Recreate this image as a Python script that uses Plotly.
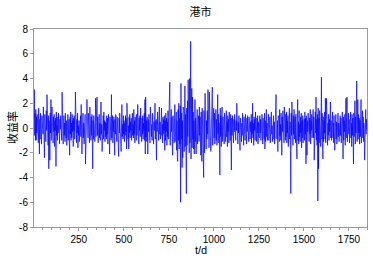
import plotly.graph_objects as go

# Returns, one value every 2 days (t = 1, 3, 5, ... 1849)
returns = [
    0.8, 3.1, -0.6, 1.2, -1.0, 1.5, -1.0, 0.9, -0.4, 1.1, -0.8, 0.5, -1.2, 1.6, -0.3, -2.1, 0.7, -0.9, 1.2, -0.5, 0.4, -1.3, 1.0, -0.2, 0.6,
    -0.5, 1.7, -0.9, 0.3, -2.4, 1.1, -0.6, 0.8, -1.1, 1.4, -0.2, 2.7, -0.7, 0.5, -1.4, 1.0, -3.3, 0.6, -0.9, -2.6, 1.2, -0.4, 2.3, -1.0, 0.7,
    1.7, -0.8, 0.4, -1.2, 0.9, -0.3, 1.1, -1.5, 0.6, -0.2, 0.8, -3.1, 1.3, -0.6, 0.2, -1.0, 0.9, -0.4, 1.2, -0.9, 0.5, -1.3, 0.7, -0.1, 1.0,
    -0.7, 0.5, -1.0, 2.9, -0.4, 0.8, -1.3, 0.3, 1.0, -0.6, 0.4, -1.1, 1.2, -0.2, -0.8, 0.6, -1.4, 0.9, -0.3, 1.1, -1.0, 0.2, 0.7, -1.2, -2.2,
    0.9, -0.5, 1.3, -1.0, 0.4, -0.8, 1.1, -0.3, 0.6, -1.5, 0.8, -0.2, 1.0, -0.9, 0.3, 2.9, -0.7, 0.5, -1.2, 0.7, -0.4, 1.2, -1.6, 0.2, -0.6,
    0.6, -1.1, 0.8, -0.4, 1.0, -0.7, 1.9, -0.2, -2.1, 0.9, -0.5, 1.2, -0.8, 0.4, -1.3, 0.7, -0.3, 1.1, -2.9, 0.5, -0.9, 1.0, 2.3, -0.6, 0.3,
    -0.8, 1.2, -0.4, 0.7, -1.2, 1.7, -0.3, 0.5, -1.0, 0.9, -0.6, 1.1, -1.4, -3.3, 0.6, -0.9, 1.0, -0.2, 0.8, -1.1, 0.4, 2.4, -0.7, 0.9, -0.5,
    2.5, -0.6, 0.9, -1.2, 0.5, -0.3, 1.1, -0.8, 0.4, -1.0, 0.7, 2.1, -0.5, 0.3, -1.9, 0.8, -0.4, 1.0, -0.9, 1.3, -0.2, 0.6, -1.1, 0.5, -0.7,
    0.4, -0.9, 1.0, -0.5, 0.8, -1.3, 0.3, 1.1, -0.6, 0.5, -2.1, 0.9, -0.4, 0.7, -1.0, 2.7, -0.8, 0.2, 1.0, -1.2, 0.6, -0.3, 0.9, -0.7, -2.2,
    0.7, -0.5, 1.1, -0.8, 0.3, -1.1, 0.9, -0.2, 0.6, -1.0, -2.3, 0.8, -0.4, 1.2, -0.6, 0.4, -1.3, -1.9, 0.5, 1.9, -0.7, 0.3, -0.9, 1.0, -0.5,
    0.6, -1.1, 0.4, -0.6, 1.0, -0.3, 0.8, -1.7, 2.0, -0.5, 0.7, -0.9, 0.2, -1.7, 0.9, -0.4, 1.1, -0.8, 0.5, -0.2, 0.8, -1.0, 0.4, 1.2, -0.6,
    0.3, -0.8, 1.5, -0.5, 0.6, -1.2, 0.9, -0.3, 0.5, -1.0, 1.1, -0.6, 0.2, 1.9, -0.9, 0.4, -1.3, 0.8, -0.2, 1.0, -0.7, 1.6, -0.4, 0.6, -1.1,
    0.8, -0.5, 1.0, -0.9, 0.4, -0.2, 1.2, -1.0, 2.3, -2.1, 2.5, -0.7, 0.6, -1.1, 0.9, -0.4, -2.1, 0.7, -0.3, 1.1, -0.8, 0.5, -1.2, 1.7, -0.6,
    0.9, -0.7, 0.3, -1.0, 1.2, -0.4, 0.8, -1.3, 0.5, -0.2, 1.0, 2.0, -0.9, 0.6, -1.1, -2.6, 0.7, -0.3, 1.3, -0.8, 0.4, -1.0, 0.9, 1.7, -0.5,
    0.5, -0.9, 1.1, -0.4, 1.6, -0.6, 0.3, -1.2, 0.9, -0.5, 0.7, -0.2, 1.0, -1.8, 0.6, -1.0, 1.2, -0.3, 0.8, -1.4, 0.5, -0.7, 1.4, -0.9, 0.3,
    -0.8, 1.2, 3.7, -1.4, 0.6, -0.9, 1.5, -0.3, 0.9, -1.6, -2.2, 1.0, -0.5, 0.8, -1.2, 0.4, 1.9, -1.1, 0.7, -0.4, 1.3, -1.8, 0.6, -2.4, -2.7,
    1.5, -1.0, 2.0, -1.7, 0.8, -1.3, 1.8, -6.0, 3.6, -0.9, 1.2, -3.2, 0.6, -2.4, 1.7, -0.8, 1.4, -1.9, 0.9, 3.4, -1.5, 1.1, -2.2, -5.3, 1.6,
    -1.4, 2.2, -0.7, 3.9, -1.8, 1.0, -2.0, 4.0, -1.2, 1.5, 7.0, -2.5, 1.1, 3.2, -1.6, 2.5, -0.9, 1.3, -1.7, 0.6, -2.1, 1.8, 2.3, -1.1, 0.8,
    -2.1, 1.2, -0.8, 1.5, -1.3, 0.7, -0.4, 1.0, -1.1, 1.7, -0.6, 0.9, -1.5, -2.2, 1.3, -0.9, -2.7, 1.6, -0.5, 1.1, -1.7, -4.0, 1.4, -2.0, 0.8,
    2.8, -1.3, 1.0, -1.7, 0.6, -0.9, 1.4, -0.5, 3.1, -1.2, 0.8, -1.6, 2.9, -0.7, 1.1, -1.0, -1.9, 0.7, -0.4, 1.3, 3.3, -1.4, 0.9, -1.1, 1.6,
    -0.8, 1.2, -1.3, 0.5, -0.6, 1.5, -1.0, 0.7, -1.4, 0.9, 2.7, -0.5, 1.1, -1.2, 0.4, -0.9, -3.8, 1.6, -0.7, 1.0, -1.5, 0.6, 1.7, -1.1, 0.3,
    0.9, -1.0, 0.6, -1.3, 1.2, -0.4, 0.8, -1.1, 0.3, 1.4, -0.7, 0.5, -1.5, 1.0, -0.3, 0.7, -1.2, 1.3, -0.6, 0.4, -1.0, 1.1, -0.5, -3.4, 0.8,
    -0.6, 1.0, -0.9, 0.5, -1.2, 0.7, -0.3, 1.1, -0.8, 0.4, -1.0, 0.6, -0.2, 2.0, -0.7, 0.9, -1.3, 0.5, -0.4, 1.0, -0.9, 0.3, -1.8, 0.8, -0.5,
    0.7, -1.1, 0.4, -0.6, 1.2, -0.8, 0.3, -1.4, 0.9, -0.2, 0.6, -1.0, 1.1, -0.5, 0.4, -1.3, 0.8, -0.3, 1.0, -0.7, 0.5, -1.1, 0.9, -0.4, 0.6,
    -0.9, 0.5, -0.3, 1.1, -1.2, 0.6, -0.5, 2.0, -0.8, 0.4, -1.4, 0.9, -0.2, 0.7, -1.0, 1.3, -0.6, 0.3, -1.1, 0.8, -0.4, 1.0, -1.3, 0.5, -0.7,
    0.6, -0.8, 1.0, -0.4, 0.7, -1.0, 0.3, -0.6, 1.1, -0.3, -1.3, 0.8, -0.5, 0.4, -0.9, 1.2, -1.7, 0.6, -1.1, 0.9, 1.5, -0.7, 0.4, -1.0, 0.5,
    -0.5, 1.1, -1.0, 0.6, -0.3, 0.9, -1.2, 0.4, -0.7, 1.3, -0.5, 0.2, -1.1, 0.8, -0.4, 1.0, -0.9, 0.5, -1.3, 0.7, -0.2, 1.2, 2.7, -0.8, 0.4,
    -0.9, 0.6, -1.9, 1.0, -0.4, 0.8, -1.1, 1.5, -0.6, 0.3, -1.0, 1.2, -0.5, -2.2, 0.9, -0.3, 1.4, -0.8, 0.5, -1.2, 1.7, -0.6, 0.4, -1.0, 1.1,
    -0.7, 1.3, -1.2, 0.6, -0.4, 1.0, -1.5, 0.8, -0.3, 1.6, -0.9, 0.5, -1.8, -5.3, 1.2, -0.6, 2.1, -1.1, 0.7, -1.4, 1.0, -0.5, 1.5, -0.9, 0.4,
    0.9, -1.2, 1.1, -0.6, 0.4, -2.5, 0.8, 2.3, -1.0, 0.5, -1.3, 1.4, -0.7, 0.3, -1.1, 0.9, -0.4, 1.2, -1.6, 0.6, -0.8, 1.0, -1.2, 0.5, -0.3,
    0.7, -1.0, 1.3, -0.5, 0.8, -2.9, 1.0, -0.7, -2.2, 0.6, -0.3, 1.2, -0.9, 0.4, -1.1, 0.8, -0.5, 1.5, -1.3, 0.6, -0.2, 1.1, -0.8, 0.9, -0.6,
    1.5, -0.8, 0.9, -2.6, 0.5, -1.1, 1.3, -0.4, 2.5, -1.0, 0.7, -1.4, 1.1, -5.9, 1.6, -3.3, 0.8, -1.2, 1.4, -0.6, 0.9, -1.5, 1.0, 4.1, -0.9,
    1.2, -0.7, -2.5, 0.9, -1.1, 0.6, -0.4, 1.3, -0.9, 2.4, -1.2, 0.5, 2.4, -0.8, 1.0, -1.4, 0.4, -0.6, 1.1, -1.0, 0.7, -0.3, 1.2, 2.1, -0.8,
    0.6, -1.0, 0.9, -0.5, 1.3, -0.8, 0.4, -1.2, 1.0, -0.3, -1.8, 0.7, -0.6, 1.1, -0.9, 0.5, -1.3, 0.8, -0.2, 1.2, -0.7, 0.4, -1.1, 0.9, -0.5,
    1.0, -0.6, 0.8, -1.2, 0.5, -0.9, 1.3, -0.4, -2.5, 0.9, -1.0, 0.6, -0.3, 1.1, -1.4, 0.7, 2.4, -0.8, 0.5, 2.5, -1.1, 0.6, -0.9, 1.2, -0.5,
    0.7, -1.2, 0.9, -0.5, 1.3, -0.8, 0.4, -1.5, 1.1, -0.6, 0.8, -1.0, -2.9, 1.2, -0.7, 0.5, 2.2, -1.3, 0.9, -0.4, 1.0, 3.8, -1.1, 0.6, 2.3,
    -0.9, 1.1, -0.4, 0.8, -1.3, 0.6, -0.7, 1.0, 2.3, -1.2, 0.5, -0.3, 1.4, -0.8, 0.9, -1.1, 0.4, -0.6, -2.6, 1.2, -0.9, 1.5, -0.5, 0.7, -0.2,
]
days = list(range(1, 2 * len(returns), 2))

title_text = "港市"
x_title = "t/d"
y_title = "收益率"
x_ticks = [250, 500, 750, 1000, 1250, 1500, 1750]
y_ticks = [-8, -6, -4, -2, 0, 2, 4, 6, 8]

fig = go.Figure(
    go.Scatter(
        x=days, y=returns, mode="lines",
        line=dict(color="#0000FF", width=0.7),
        showlegend=False,
    )
)

axis_font = dict(family="Arial, Liberation Sans, sans-serif", size=10, color="#000000")
frame_color = "#9a9a9a"

fig.update_layout(
    width=373, height=260,
    margin=dict(l=34, r=6, t=29, b=33, autoexpand=False),
    paper_bgcolor="white", plot_bgcolor="white",
    title=dict(
        text=title_text, x=0.5, xref="paper", y=0.955, yref="container",
        xanchor="center", yanchor="middle",
        font=dict(family="Noto Sans CJK SC", size=11, color="#000000"),
    ),
    annotations=[
        dict(text=x_title, xref="paper", yref="paper", x=0.5, y=-0.118,
             xanchor="center", yanchor="middle", showarrow=False,
             font=dict(family="Arial, Liberation Sans, sans-serif", size=11, color="#000000")),
        dict(text=y_title, xref="paper", yref="paper", x=-0.066, y=0.5,
             xanchor="center", yanchor="middle", showarrow=False, textangle=-90,
             font=dict(family="Noto Sans CJK SC", size=11, color="#000000")),
    ],
)

fig.update_xaxes(
    range=[1, 1850], automargin=False,
    tickvals=x_ticks, ticktext=[str(v) for v in x_ticks],
    ticks="outside", ticklen=3, tickcolor=frame_color,
    minor=dict(dtick=50, tick0=0, ticks="outside", ticklen=2, tickcolor=frame_color),
    showgrid=False, zeroline=False,
    showline=True, linecolor=frame_color, linewidth=1, mirror=True,
    tickfont=axis_font,
)

fig.update_yaxes(
    range=[-8, 8], automargin=False,
    tickvals=y_ticks, ticktext=[str(v) for v in y_ticks],
    ticks="outside", ticklen=3, tickcolor=frame_color,
    showgrid=False, zeroline=False,
    showline=True, linecolor=frame_color, linewidth=1, mirror=True,
    tickfont=axis_font,
)

fig.write_html(
    "out.html",
    config={"displayModeBar": False},
    post_script="document.body.style.margin='0';document.body.style.padding='0';",
)
